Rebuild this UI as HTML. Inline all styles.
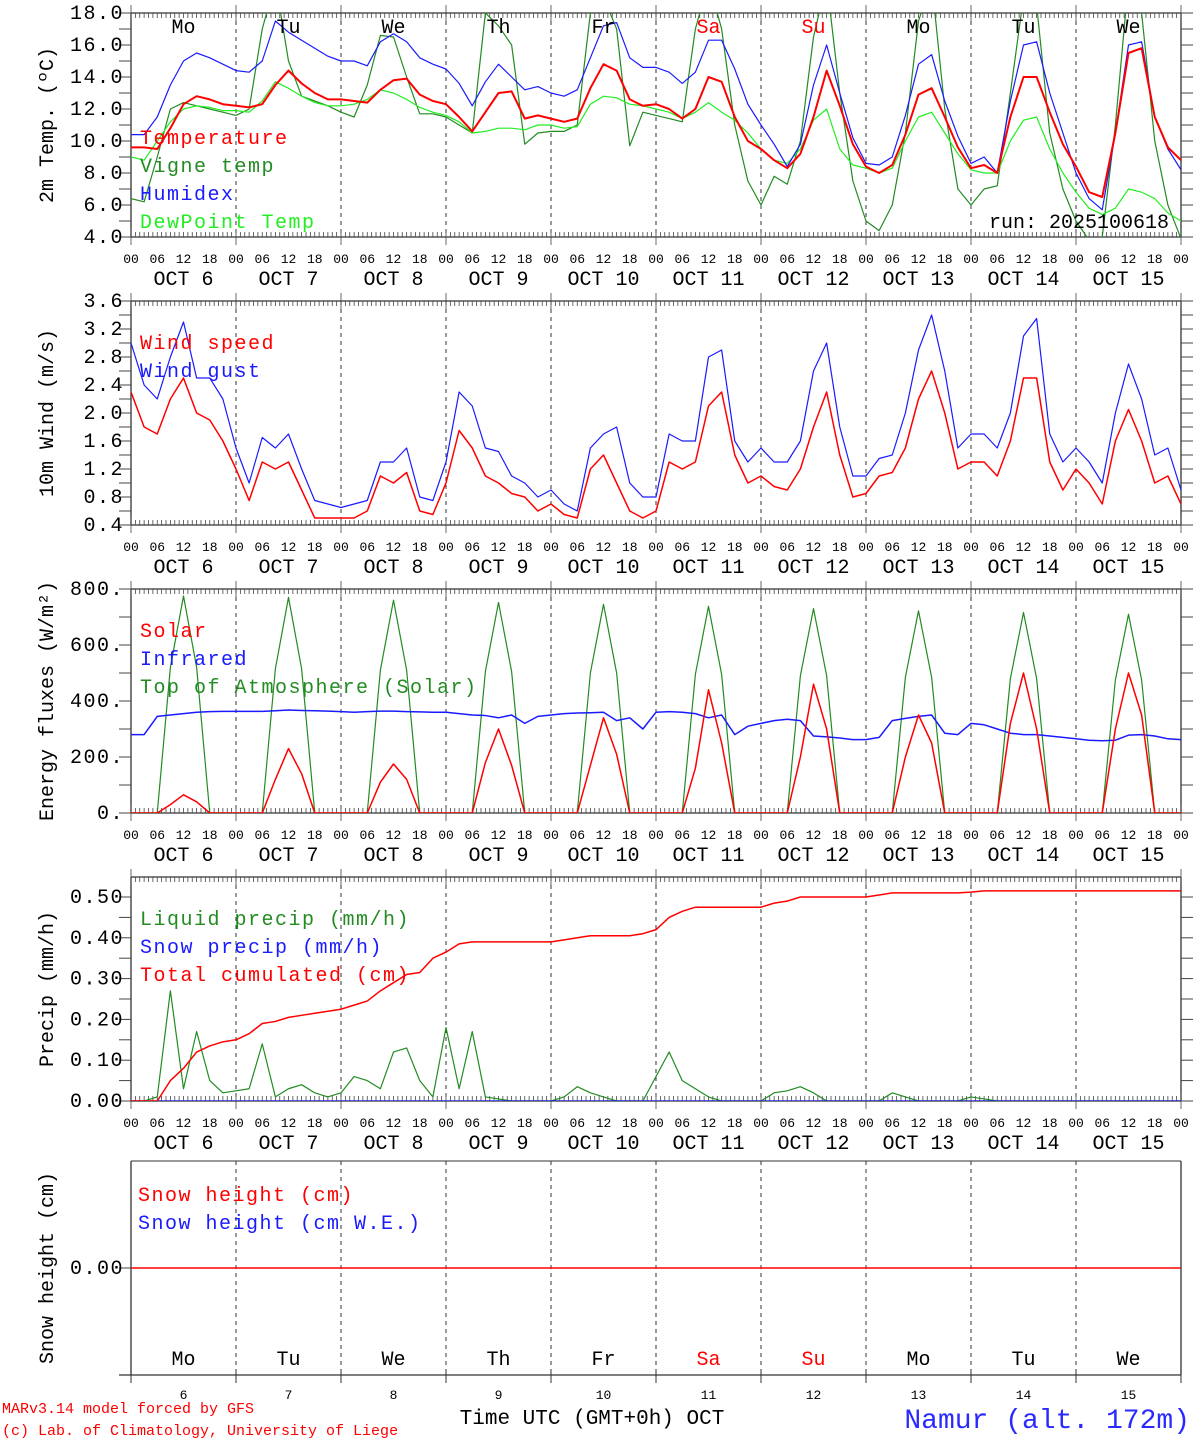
<!DOCTYPE html>
<html><head><meta charset="utf-8"><style>
html,body{margin:0;padding:0;background:#fff;}
svg{display:block;font-family:"Liberation Mono",monospace;}
</style></head><body>
<svg id="chart" width="1194" height="1440" viewBox="0 0 1194 1440" xmlns="http://www.w3.org/2000/svg"></svg>
<script>
// ---------- DATA (3-hourly, Oct 6 00UTC .. Oct 16 00UTC) ----------
const dayNames = ["Mo","Tu","We","Th","Fr","Sa","Su","Mo","Tu","We"];
const dayNums = [6,7,8,9,10,11,12,13,14,15];
const hourLabels = ["00","06","12","18"];
const tempTicks = ["4.0","6.0","8.0","10.0","12.0","14.0","16.0","18.0"];
const windTicks = ["0.4","0.8","1.2","1.6","2.0","2.4","2.8","3.2","3.6"];
const fluxTicks = ["0.","200.","400.","600.","800."];
const precipTicks = ["0.00","0.10","0.20","0.30","0.40","0.50"];

const temperature = [9.6,9.6,9.5,10.8,12.3,12.8,12.6,12.3, 12.2,12.1,12.3,13.5,14.4,13.6,13.0,12.6, 12.6,12.5,12.4,13.2,13.8,13.9,12.9,12.5, 12.3,11.5,10.6,11.8,13.0,13.1,11.4,11.6, 11.4,11.2,11.4,13.3,14.8,14.4,12.6,12.2, 12.3,12.0,11.4,12.0,14.0,13.7,11.5,10.0, 9.5,8.8,8.3,9.2,11.5,14.4,12.2,9.8, 8.4,8.0,8.5,10.4,12.9,13.3,11.5,9.6, 8.3,8.5,8.0,11.5,14.0,14.0,11.8,9.8, 8.4,6.8,6.5,10.5,15.5,15.8,11.5,9.6,8.8];
const vigneTemp = [6.4,6.2,9.0,12.0,12.4,12.2,12.0,11.8, 11.6,12.0,17.0,20,15.0,12.8,12.5,12.2, 11.8,11.5,13.5,16.6,16.5,14.0,11.7,11.7, 11.5,11.0,10.5,18.0,17.2,16.0,9.8,10.5, 10.6,10.6,11.0,18.0,19.0,17.0,9.7,11.8, 11.6,11.4,11.2,17,20,17,11.0,7.5, 6.0,7.8,7.3,10,16.5,20,13.0,7.5, 5.0,4.4,6.0,10.5,17.5,20,12.0,7.0, 6.0,7.0,7.2,13,19,18.5,10.5,7.0, 5.0,3.8,4.0,11,20,18,10,6.0,3.9];
const humidex = [10.4,10.4,11.5,13.5,15.0,15.5,15.2,14.8, 14.4,14.3,15.0,17.5,16.8,16.3,15.8,15.3, 15.0,15.0,14.7,16.2,16.7,16.2,15.2,14.8, 14.5,13.6,12.2,13.7,14.8,14.0,13.2,13.4, 13.0,12.8,13.2,15.2,17.2,17.4,15.2,14.6, 14.6,14.3,13.6,14.3,16.3,16.3,14.5,12.3, 11.0,9.8,8.4,9.8,13.5,16.0,13.0,10.2, 8.6,8.5,9.0,11.6,14.8,15.4,12.5,10.3, 8.6,9.0,8.0,12.5,16.0,16.2,13.0,10.5, 8.0,6.4,5.7,10.5,16.0,16.2,11.5,9.5,8.2];
const dewPoint = [9.0,8.8,10.0,11.2,12.0,12.2,12.1,11.9, 11.9,11.8,12.5,13.7,13.3,12.8,12.4,12.2, 12.2,12.3,12.6,13.2,13.0,12.6,12.1,11.8, 11.6,11.2,10.5,10.6,10.8,10.8,10.7,11.0, 11.0,10.8,10.9,12.3,12.8,12.7,12.3,12.2, 12.0,11.8,11.4,11.8,12.4,11.8,11.3,10.5, 9.5,8.8,8.6,9.5,11.3,12.0,9.5,8.5, 8.3,8.0,8.3,10.0,11.5,11.8,10.5,9.2, 8.2,8.0,8.0,10.0,11.3,11.5,9.5,8.0, 6.8,5.8,5.4,5.8,7.0,6.8,6.4,5.5,5.0];

const windSpeed = [2.3,1.8,1.7,2.2,2.5,2.0,1.9,1.6, 1.2,0.75,1.3,1.2,1.3,0.9,0.5,0.5, 0.5,0.5,0.6,1.1,1.0,1.15,0.6,0.55, 1.0,1.75,1.5,1.1,1.0,0.85,0.8,0.6, 0.7,0.55,0.5,1.2,1.4,1.0,0.6,0.5, 0.6,1.3,1.2,1.3,2.1,2.3,1.4,1.0, 1.1,0.95,0.9,1.2,1.8,2.3,1.4,0.8, 0.85,1.1,1.15,1.5,2.2,2.6,2.0,1.2, 1.3,1.3,1.1,1.6,2.5,2.5,1.3,0.9, 1.2,1.0,0.7,1.6,2.05,1.6,1.0,1.1,0.7];
const windGust = [3.0,2.4,2.2,2.8,3.3,2.5,2.5,2.2, 1.5,1.0,1.65,1.5,1.7,1.2,0.75,0.7, 0.65,0.7,0.75,1.3,1.3,1.5,0.8,0.75, 1.3,2.3,2.1,1.5,1.45,1.1,1.0,0.8, 0.9,0.7,0.6,1.5,1.7,1.8,1.0,0.8, 0.8,1.7,1.6,1.6,2.8,2.9,1.6,1.3, 1.5,1.3,1.3,1.6,2.6,3.0,1.8,1.1, 1.1,1.35,1.4,2.0,2.9,3.4,2.6,1.5, 1.7,1.7,1.5,2.0,3.1,3.35,1.7,1.3, 1.5,1.3,1.0,2.0,2.7,2.2,1.4,1.5,0.9];

const solar = [0,0,0,30,65,40,0,0, 0,0,0,120,230,140,0,0, 0,0,0,110,175,120,0,0, 0,0,0,180,300,170,0,0, 0,0,0,170,340,210,0,0, 0,0,0,160,440,250,0,0, 0,0,0,200,460,300,0,0, 0,0,0,200,350,250,0,0, 0,0,0,320,500,300,0,0, 0,0,0,300,500,350,0,0,0];
const infrared = [280,280,345,350,355,360,362,363, 363,363,363,365,368,366,365,364, 362,360,362,364,364,362,361,360, 360,355,350,348,340,350,320,345, 350,355,357,358,360,330,340,300, 360,362,360,355,340,350,280,310, 320,330,335,330,275,272,268,262, 262,270,330,338,345,350,285,280, 320,315,300,285,280,280,275,270, 265,260,258,260,278,280,275,265,262];
const topAtmos = [0,0,0,520,775,520,0,0, 0,0,0,515,770,515,0,0, 0,0,0,510,760,510,0,0, 0,0,0,505,752,505,0,0, 0,0,0,500,745,500,0,0, 0,0,0,495,738,495,0,0, 0,0,0,490,730,490,0,0, 0,0,0,485,722,485,0,0, 0,0,0,480,716,480,0,0, 0,0,0,475,710,475,0,0,0];

const liquidPrecip = [0,0,0.01,0.27,0.03,0.17,0.05,0.02, 0.025,0.03,0.14,0.01,0.03,0.04,0.02,0.01, 0.02,0.06,0.05,0.03,0.12,0.13,0.05,0.01, 0.18,0.03,0.17,0.01,0.005,0,0,0, 0,0.01,0.035,0.02,0.01,0,0,0, 0.06,0.12,0.05,0.03,0.01,0,0,0, 0,0.02,0.025,0.035,0.02,0,0,0, 0,0,0.02,0.01,0,0,0,0, 0.01,0.005,0,0,0,0,0,0, 0,0,0,0,0,0,0,0,0];
const snowPrecip = [0,0,0,0,0,0,0,0, 0,0,0,0,0,0,0,0, 0,0,0,0,0,0,0,0, 0,0,0,0,0,0,0,0, 0,0,0,0,0,0,0,0, 0,0,0,0,0,0,0,0, 0,0,0,0,0,0,0,0, 0,0,0,0,0,0,0,0, 0,0,0,0,0,0,0,0, 0,0,0,0,0,0,0,0,0];
const totalCumul = [0,0,0,0.05,0.08,0.12,0.135,0.145, 0.15,0.165,0.19,0.195,0.205,0.21,0.215,0.22, 0.225,0.235,0.245,0.27,0.29,0.31,0.315,0.35, 0.365,0.385,0.39,0.39,0.39,0.39,0.39,0.39, 0.39,0.395,0.40,0.405,0.405,0.405,0.405,0.41, 0.42,0.45,0.465,0.475,0.475,0.475,0.475,0.475, 0.475,0.485,0.49,0.50,0.50,0.50,0.50,0.50, 0.50,0.505,0.51,0.51,0.51,0.51,0.51,0.51, 0.512,0.515,0.515,0.515,0.515,0.515,0.515,0.515, 0.515,0.515,0.515,0.515,0.515,0.515,0.515,0.515,0.515];
const snowHeight = [0,0,0,0,0,0,0,0,0,0,0];

// ---------- LAYOUT ----------
const NS = "http://www.w3.org/2000/svg";
const svg = document.getElementById("chart");
const X0 = 131, X1 = 1181, HOURS = 240, STEP = 3;
const xOf = h => X0 + (X1 - X0) * h / HOURS;
function mk(tag, attrs, parent) {
  const e = document.createElementNS(NS, tag);
  for (const k in attrs) e.setAttribute(k, attrs[k]);
  (parent || svg).appendChild(e);
  return e;
}
function txt(s, x, y, size, fill, anchor, parent, ls) {
  const t = mk("text", {x: x, y: y, "font-size": size, fill: fill || "#000", "text-anchor": anchor || "start"}, parent);
  if (ls) t.setAttribute("letter-spacing", ls);
  t.setAttribute("xml:space", "preserve");
  t.textContent = s;
  return t;
}
const panels = [
  {id:"temp", top:13, bottom:237, min:4, max:18, ticks:tempTicks, tickStep:2, minor:1, title:"2m Temp. (ºC)"},
  {id:"wind", top:301, bottom:525, min:0.4, max:3.6, ticks:windTicks, tickStep:0.4, minor:0.2, title:"10m Wind (m/s)"},
  {id:"flux", top:589, bottom:813, min:0, max:800, ticks:fluxTicks, tickStep:200, minor:100, title:"Energy fluxes (W/m²)"},
  {id:"precip", top:877, bottom:1101, min:0, max:224/408, ticks:precipTicks, tickStep:0.1, minor:0.05, title:"Precip (mm/h)"},
  {id:"snow", top:1161, bottom:1375, min:-1, max:1, ticks:["0.00"], tickStep:1, minor:0, title:"Snow height (cm)"}
];
panels.forEach(p => { p.y = v => p.bottom - (p.bottom - p.top) * (v - p.min) / (p.max - p.min); });

function drawPanel(p) {
  const g = mk("g", {});
  
  
  const cp = mk("clipPath", {id: "clip-" + p.id}, g);
  mk("rect", {x: X0, y: p.top, width: X1 - X0, height: p.bottom - p.top}, cp);
  for (let d = 1; d < 10; d++) {
    const l = mk("line", {x1: xOf(d*24), x2: xOf(d*24), y1: p.top, y2: p.bottom, stroke: "#333", "stroke-width": 1, "stroke-dasharray": "4,4"}, g);
    
    
  }
  const isSnow = p.id === "snow";
  mk("line", {x1: X0, x2: X0, y1: p.top, y2: p.bottom, stroke: "#333", "stroke-width": 1.3}, g);
  mk("line", {x1: X1, x2: X1, y1: p.top, y2: p.bottom, stroke: "#333", "stroke-width": 1.3}, g);
  if (!isSnow) {
    mk("line", {x1: X0, x2: X1, y1: p.top, y2: p.top, stroke: "#333", "stroke-width": 1.3}, g);
    mk("line", {x1: X0, x2: X1, y1: p.bottom, y2: p.bottom, stroke: "#333", "stroke-width": 1.3}, g);
    for (let h = 0; h <= HOURS; h++) {
      const x = xOf(h);
      const big = h % 24 === 0;
      const len = big ? 8 : 5;
      mk("line", {x1: x, x2: x, y1: p.top, y2: p.top + len, stroke: "#444", "stroke-width": 0.8}, g);
      mk("line", {x1: x, x2: x, y1: p.bottom, y2: p.bottom - len, stroke: "#444", "stroke-width": 0.8}, g);
      if (big) {
        mk("line", {x1: x, x2: x, y1: p.top - 8, y2: p.top, stroke: "#444", "stroke-width": 0.8}, g);
        mk("line", {x1: x, x2: x, y1: p.bottom, y2: p.bottom + 8, stroke: "#444", "stroke-width": 0.8}, g);
      }
    }
    for (let h = 0; h <= HOURS; h += 6) {
      const t = txt(hourLabels[(h/6) % 4], xOf(h), p.bottom + 26, 13, "#000", "middle", g);
      
      
    }
    for (let d = 0; d < 10; d++) {
      const t = txt("OCT " + (dayNums[d] < 10 ? " " : "") + dayNums[d], xOf(d*24 + 12), p.bottom + 48, 20, "#000", "middle", g);
      
      
    }
  } else {
    mk("line", {x1: X0 - 12, x2: X1, y1: p.bottom, y2: p.bottom, stroke: "#333", "stroke-width": 1.3}, g);
    mk("line", {x1: X0, x2: X1, y1: p.top, y2: p.top, stroke: "#333", "stroke-width": 1}, g);
    for (let d = 0; d <= 10; d++) {
      mk("line", {x1: xOf(d*24), x2: xOf(d*24), y1: p.bottom - 2, y2: p.bottom + 8, stroke: "#333", "stroke-width": 1}, g);
    }
    for (let d = 0; d < 10; d++) {
      const t = txt(dayNames[d], xOf(d*24 + 12), p.bottom - 10, 20, (d === 5 || d === 6) ? "#f00" : "#000", "middle", g);
      
      
      const n = txt(String(dayNums[d]), xOf(d*24 + 12), p.bottom + 24, 13, "#000", "middle", g);
      
      
    }
  }
  if (p.minor) {
    for (let v = p.min; v <= p.max + 1e-9; v += p.minor) {
      const y = p.y(v);
      mk("line", {x1: X0 - 12, x2: X0, y1: y, y2: y, stroke: "#444", "stroke-width": 1}, g);
      mk("line", {x1: X1, x2: X1 + 12, y1: y, y2: y, stroke: "#444", "stroke-width": 1}, g);
    }
  }
  p.ticks.forEach((lab, i) => {
    const v = isSnow ? 0 : p.min + i * p.tickStep;
    const y = p.y(v);
    if (isSnow) mk("line", {x1: X0 - 12, x2: X0, y1: y, y2: y, stroke: "#444", "stroke-width": 1}, g);
    const t = txt(lab, 124, y + 6, 20, "#000", "end", g, 1.5);
    
    
  });
  const cy = (p.top + p.bottom) / 2;
  const yt = txt(p.title, 0, 0, 20, "#000", "middle", g);
  yt.setAttribute("transform", "translate(53," + cy + ") rotate(-90)");
  
  
  return g;
}

function series(p, vals, color, width, name, hstep) {
  const s = hstep || STEP;
  const pts = vals.map((v, i) => xOf(i * s).toFixed(2) + "," + p.y(v).toFixed(2)).join(" ");
  const pl = mk("polyline", {points: pts, fill: "none", stroke: color, "stroke-width": width, "stroke-linejoin": "round", "clip-path": "url(#clip-" + p.id + ")"});
  
  
}
function legend(items, x, y0) {
  items.forEach((it, i) => {
    const t = txt(it[0], x, y0 + i * 28, 20, it[1], "start", null, 1.5);
    
    
  });
}

panels.forEach(drawPanel);
const [P1, P2, P3, P4, P5] = panels;

series(P1, vigneTemp, "#228b22", 1.2, "vigne-temp-line");
series(P1, dewPoint, "#22ee22", 1.2, "dewpoint-line");
series(P1, humidex, "#1a1aff", 1.2, "humidex-line");
series(P1, temperature, "#ff0000", 2, "temperature-line");
dayNames.forEach((d, i) => {
  const t = txt(d, xOf(i*24 + 12), 33, 20, (i === 5 || i === 6) ? "#f00" : "#000", "middle");
  
  
});
legend([["Temperature","#ff0000"],["Vigne temp","#228b22"],["Humidex","#1a1aff"],["DewPoint Temp","#22ee22"]], 140, 144);
const run = txt("run: 2025100618", 1169, 228, 20, "#000", "end");



series(P2, windGust, "#1a1aff", 1.2, "wind-gust-line");
series(P2, windSpeed, "#ff0000", 1.5, "wind-speed-line");
legend([["Wind speed","#ff0000"],["Wind gust","#1a1aff"]], 140, 349);

series(P3, topAtmos, "#228b22", 1.2, "toa-solar-line");
series(P3, infrared, "#1a1aff", 1.5, "infrared-line");
series(P3, solar, "#ff0000", 1.5, "solar-line");
legend([["Solar","#ff0000"],["Infrared","#1a1aff"],["Top of Atmosphere (Solar)","#228b22"]], 140, 637);

series(P4, liquidPrecip, "#228b22", 1.2, "liquid-precip-line");
series(P4, snowPrecip, "#1a1aff", 1.2, "snow-precip-line");
series(P4, totalCumul, "#ff0000", 1.5, "total-cumulated-line");
legend([["Liquid precip (mm/h)","#228b22"],["Snow precip (mm/h)","#1a1aff"],["Total cumulated (cm)","#ff0000"]], 140, 925);

series(P5, snowHeight, "#ff0000", 1.5, "snow-height-line", 24);
legend([["Snow height (cm)","#ff0000"],["Snow height (cm W.E.)","#1a1aff"]], 138, 1201);

const f1 = txt("MARv3.14 model forced by GFS", 2, 1413, 15, "#f00");


const f2 = txt("(c) Lab. of Climatology, University of Liege", 2, 1435, 15, "#f00");


const xt = txt("Time UTC (GMT+0h) OCT", 592, 1424, 21, "#000", "middle");


const loc = txt("Namur (alt. 172m)", 1190, 1428, 28, "#2a2aff", "end");


</script>
</body></html>
